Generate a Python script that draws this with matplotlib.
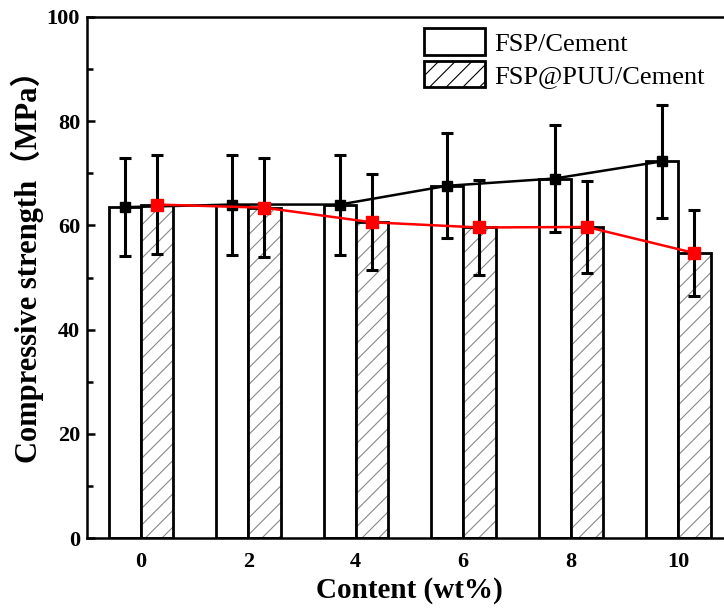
import matplotlib
matplotlib.use("Agg")
from matplotlib import pyplot as plt
import numpy as np

content = [0, 2, 4, 6, 8, 10]
fsp = [63.5, 64.0, 64.0, 67.6, 69.0, 72.3]
fsp_err = [9.4, 9.6, 9.6, 10.1, 10.2, 10.8]
puu = [64.0, 63.4, 60.6, 59.6, 59.7, 54.7]
puu_err = [9.5, 9.5, 9.2, 9.1, 8.9, 8.2]

serif = ['Liberation Serif', 'DejaVu Serif']
plt.rcParams['font.family'] = serif
plt.rcParams['hatch.linewidth'] = 0.8

fig = plt.figure(figsize=(7.24, 6.08), dpi=100)
# right end of the axes runs past the figure edge
ax = fig.add_axes([87 / 724, 70 / 608, 645 / 724, 521 / 608])

x = np.array(content, dtype=float)
w = 0.6
ax.bar(x - w / 2, fsp, w, color='white', edgecolor='black', linewidth=2,
       label='FSP/Cement', zorder=2)
# grey hatch first, black outline on top
ax.bar(x + w / 2, puu, w, color='white', edgecolor='#888888', linewidth=0,
       hatch='//', zorder=2)
ax.bar(x + w / 2, puu, w, fill=False, edgecolor='black', linewidth=2, zorder=2)
hatch_handle = plt.Rectangle((0, 0), 1, 1, facecolor='white', edgecolor='black',
                             linewidth=2, hatch='//')

ax.errorbar(x - w / 2, fsp, yerr=fsp_err, fmt='none', ecolor='black',
            elinewidth=2.2, capsize=4.5, capthick=2.2, zorder=3)
ax.errorbar(x + w / 2, puu, yerr=puu_err, fmt='none', ecolor='black',
            elinewidth=2.2, capsize=4.5, capthick=2.2, zorder=3)

ax.plot(x - w / 2, fsp, color='black', lw=1.8, marker='s', ms=7, zorder=4)
ax.plot(x + w / 2, puu, color='red', lw=1.8, marker='s', ms=8, zorder=5)

ax.set_xlim(-1, 11)
ax.set_ylim(0, 100)
ax.set_xticks(content)
ax.set_yticks(range(0, 101, 20))
ax.set_yticks(range(10, 100, 20), minor=True)
ax.tick_params(axis='both', which='major', direction='in', length=6, width=1.8,
               labelsize=16, pad=10)
ax.tick_params(axis='y', which='major', pad=5)
ax.tick_params(axis='y', which='minor', direction='in', length=4, width=1.8)
ax.tick_params(axis='x', which='major', length=0)
for lab in ax.get_xticklabels() + ax.get_yticklabels():
    lab.set_fontweight('bold')
for s in ax.spines.values():
    s.set_linewidth(1.8)

ax.set_xlabel('Content (wt%)', fontsize=21, fontweight='bold', labelpad=4)
ax.set_ylabel('Compressive strength（MPa）', fontsize=22, fontweight='bold',
              family=['Liberation Serif', 'Noto Sans CJK SC'])
ax.yaxis.set_label_coords(-0.067, 0.535)

handles = [plt.Rectangle((0, 0), 1, 1, facecolor='white', edgecolor='black',
                         linewidth=2), hatch_handle]
ax.legend(handles, ['FSP/Cement', 'FSP@PUU/Cement'], loc='upper left',
          bbox_to_anchor=(406 / 724, 1 - 10 / 608),
          bbox_transform=fig.transFigure, frameon=False, fontsize=19,
          handlelength=2.3, handleheight=1.15, handletextpad=0.35,
          labelspacing=0.2, borderpad=0.2)

fig.savefig('out.png', dpi=100)
